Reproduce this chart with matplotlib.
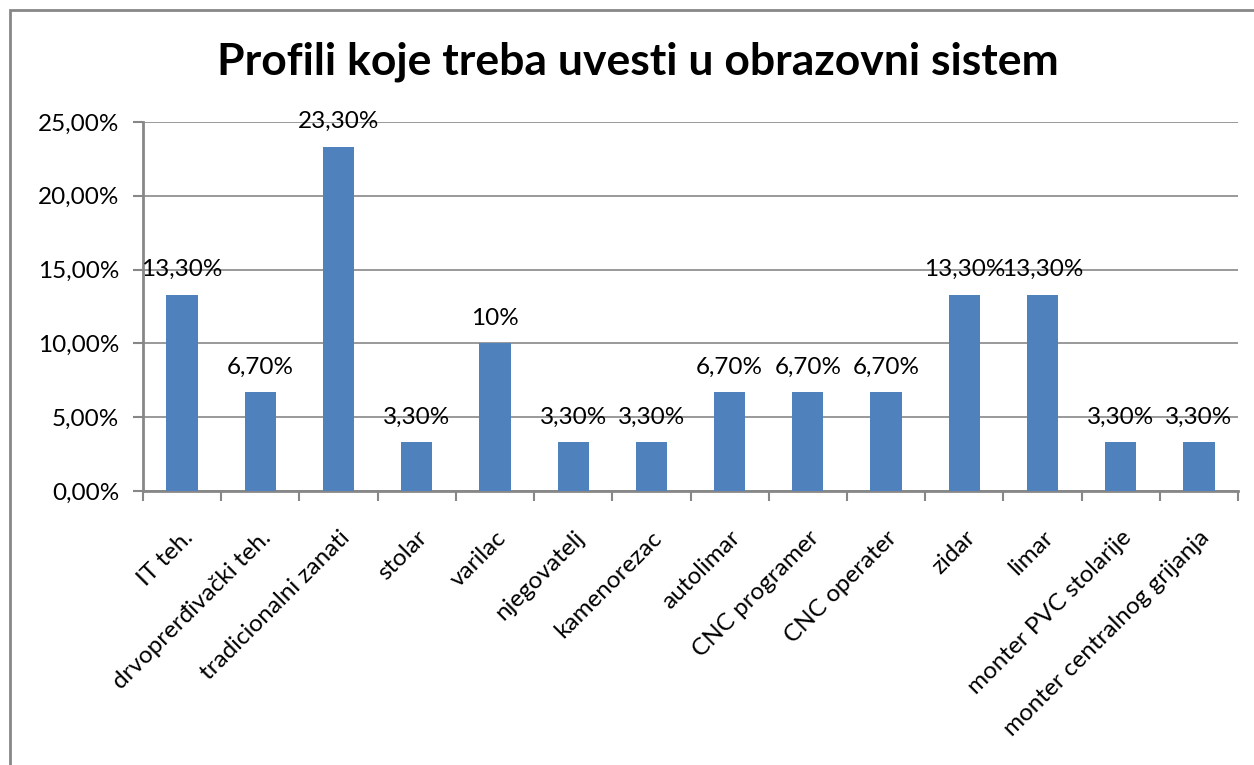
import matplotlib
matplotlib.use("Agg")
import matplotlib.pyplot as plt
from matplotlib.patches import Rectangle
from matplotlib.ticker import FuncFormatter, MultipleLocator

# Data
categories = ["IT teh.", "drvoprerđivački teh.", "tradicionalni zanati", "stolar",
              "varilac", "njegovatelj", "kamenorezac", "autolimar", "CNC programer",
              "CNC operater", "zidar", "limar", "monter PVC stolarije",
              "monter centralnog grijanja"]
values = [13.3, 6.7, 23.3, 3.3, 10.0, 3.3, 3.3, 6.7, 6.7, 6.7, 13.3, 13.3, 3.3, 3.3]
value_labels = ["13,30%", "6,70%", "23,30%", "3,30%", "10%", "3,30%", "3,30%",
                "6,70%", "6,70%", "6,70%", "13,30%", "13,30%", "3,30%", "3,30%"]
title = "Profili koje treba uvesti u obrazovni sistem"

plt.rcParams["font.family"] = ["Lato", "DejaVu Sans"]
grey = "#878787"
blue = "#4F81BD"

fig = plt.figure(figsize=(12.54, 7.65), dpi=100)
ax = fig.add_axes([143 / 1254, 1 - 491 / 765, (1238 - 143) / 1254, (491 - 122) / 765])

# outer chart frame (cut off at right and bottom like the screenshot)
fig.patches.append(Rectangle((10 / 1254, -0.1), 1.2, 1 - 10 / 765 + 0.1,
                             transform=fig.transFigure, fill=False,
                             edgecolor=grey, linewidth=2))

x = range(len(categories))
ax.bar(x, values, width=0.4, color=blue, zorder=3)
for xi, v, lab in zip(x, values, value_labels):
    ax.text(xi, v + 1.0, lab, ha="center", va="bottom", fontsize=17.5, zorder=4)

ax.set_xlim(-0.5, len(categories) - 0.5)
ax.set_ylim(0, 25)
ax.yaxis.set_major_locator(MultipleLocator(5))
ax.yaxis.set_major_formatter(FuncFormatter(lambda v, p: f"{v:.2f}%".replace(".", ",")))
ax.grid(axis="y", color=grey, linewidth=1.2, zorder=0)

ax.set_xticks([i - 0.5 for i in range(len(categories) + 1)], minor=False)
ax.set_xticklabels([])
ax.set_xticks(list(x), minor=True)
ax.set_xticklabels(categories, minor=True, rotation=45, ha="right",
                   rotation_mode="anchor", fontsize=17.5)
ax.tick_params(axis="x", which="minor", length=0, pad=26)
ax.tick_params(axis="x", which="major", length=7, width=1.5, color=grey, direction="out")
ax.tick_params(axis="y", length=7, width=1.5, color=grey, labelsize=17.5, pad=10)

for side in ["top", "right"]:
    ax.spines[side].set_visible(False)
for side in ["left", "bottom"]:
    ax.spines[side].set_color(grey)
    ax.spines[side].set_linewidth(2)

fig.text(638 / 1254, 1 - 62 / 765, title, ha="center", va="center",
         fontsize=32, fontweight="bold")

fig.savefig("out.png", dpi=100)
